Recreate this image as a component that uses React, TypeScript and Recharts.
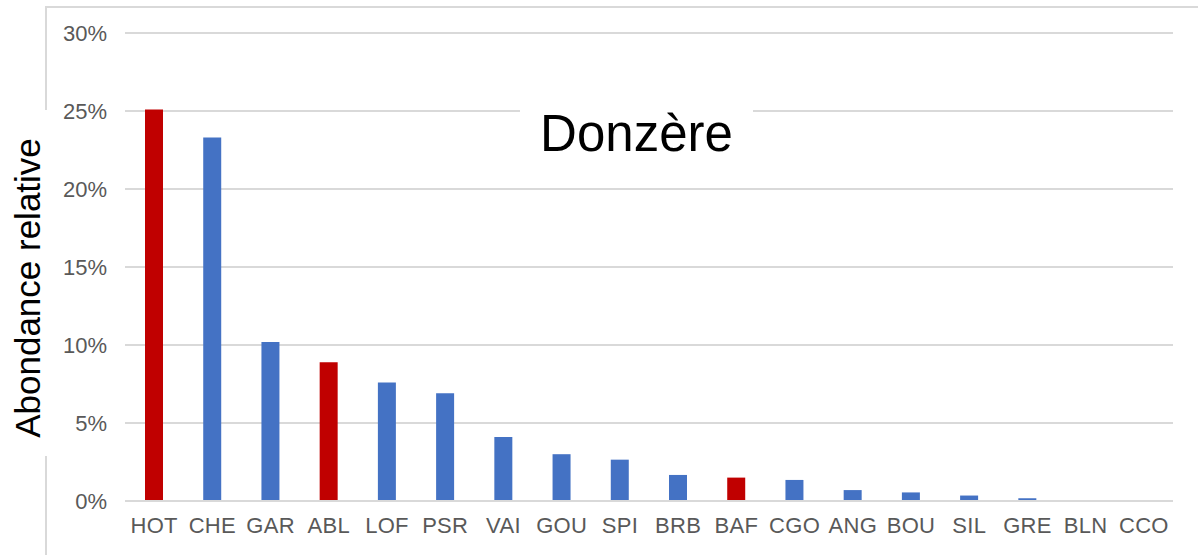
import { BarChart, Bar, XAxis, YAxis, CartesianGrid, Cell } from "recharts";

// Donzère – relative abundance per taxon (red = highlighted taxa)
const categories = [
  "HOT", "CHE", "GAR", "ABL", "LOF", "PSR", "VAI", "GOU", "SPI",
  "BRB", "BAF", "CGO", "ANG", "BOU", "SIL", "GRE", "BLN", "CCO",
];
const abundance = [
  0.251, 0.233, 0.102, 0.089, 0.076, 0.069, 0.041, 0.030, 0.0265,
  0.0167, 0.015, 0.0135, 0.007, 0.0055, 0.0035, 0.0018, 0, 0,
];
const highlighted = ["HOT", "ABL", "BAF"];
const yTicks = [0, 0.05, 0.1, 0.15, 0.2, 0.25, 0.3];

const RED = "#C00000";
const BLUE = "#4472C4";
const GRID = "#d9d9d9";
const FONT = "'Liberation Sans', Arial, sans-serif";

const data = categories.map((c, i) => ({ name: c, value: abundance[i] }));

export default function App() {
  return (
    <div
      style={{
        position: "absolute",
        left: 0,
        top: 0,
        width: 1198,
        height: 555,
        background: "#fff",
        fontFamily: FONT,
        overflow: "hidden",
      }}
    >
      {/* outer frame */}
      <div
        style={{
          position: "absolute",
          left: 45,
          top: 6,
          width: 1200,
          height: 600,
          border: `2px solid ${GRID}`,
          boxSizing: "border-box",
        }}
      />
      <div style={{ position: "absolute", left: 0, top: 0 }}>
        <BarChart
          width={1198}
          height={555}
          data={data}
          margin={{ top: 33, right: 25, bottom: 0, left: 0 }}
          barCategoryGap={0}
        >
          <CartesianGrid vertical={false} stroke={GRID} strokeWidth={2} />
          <XAxis
            dataKey="name"
            height={54}
            interval={0}
            axisLine={{ stroke: GRID, strokeWidth: 2 }}
            tickLine={false}
            tickSize={0}
            tickMargin={16}
            tick={{ fill: "#595959", fontSize: 22, fontFamily: FONT, letterSpacing: 0.3 }}
          />
          <YAxis
            width={125}
            domain={[0, 0.3]}
            ticks={yTicks}
            axisLine={false}
            tickLine={false}
            tickSize={0}
            tickMargin={18}
            tickFormatter={(v: number) => `${Math.round(v * 100)}%`}
            tick={{ fill: "#595959", fontSize: 22, fontFamily: FONT }}
          />
          <Bar dataKey="value" barSize={18} isAnimationActive={false}>
            {data.map((d) => (
              <Cell key={d.name} fill={highlighted.includes(d.name) ? RED : BLUE} />
            ))}
          </Bar>
        </BarChart>
      </div>
      {/* title box */}
      <div
        style={{
          position: "absolute",
          left: 520,
          top: 98,
          width: 233,
          height: 70,
          background: "#fff",
          display: "flex",
          alignItems: "center",
          justifyContent: "center",
          fontSize: 51,
          color: "#000",
        }}
      >
        Donzère
      </div>
      {/* y-axis label box */}
      <div
        style={{
          position: "absolute",
          left: 8,
          top: 110,
          width: 42,
          height: 346,
          background: "#fff",
        }}
      />
      <div
        style={{
          position: "absolute",
          left: 27,
          top: 288,
          transform: "translate(-50%, -50%) rotate(-90deg)",
          whiteSpace: "nowrap",
          fontSize: 35,
          color: "#000",
          lineHeight: 1,
        }}
      >
        Abondance relative
      </div>
    </div>
  );
}
